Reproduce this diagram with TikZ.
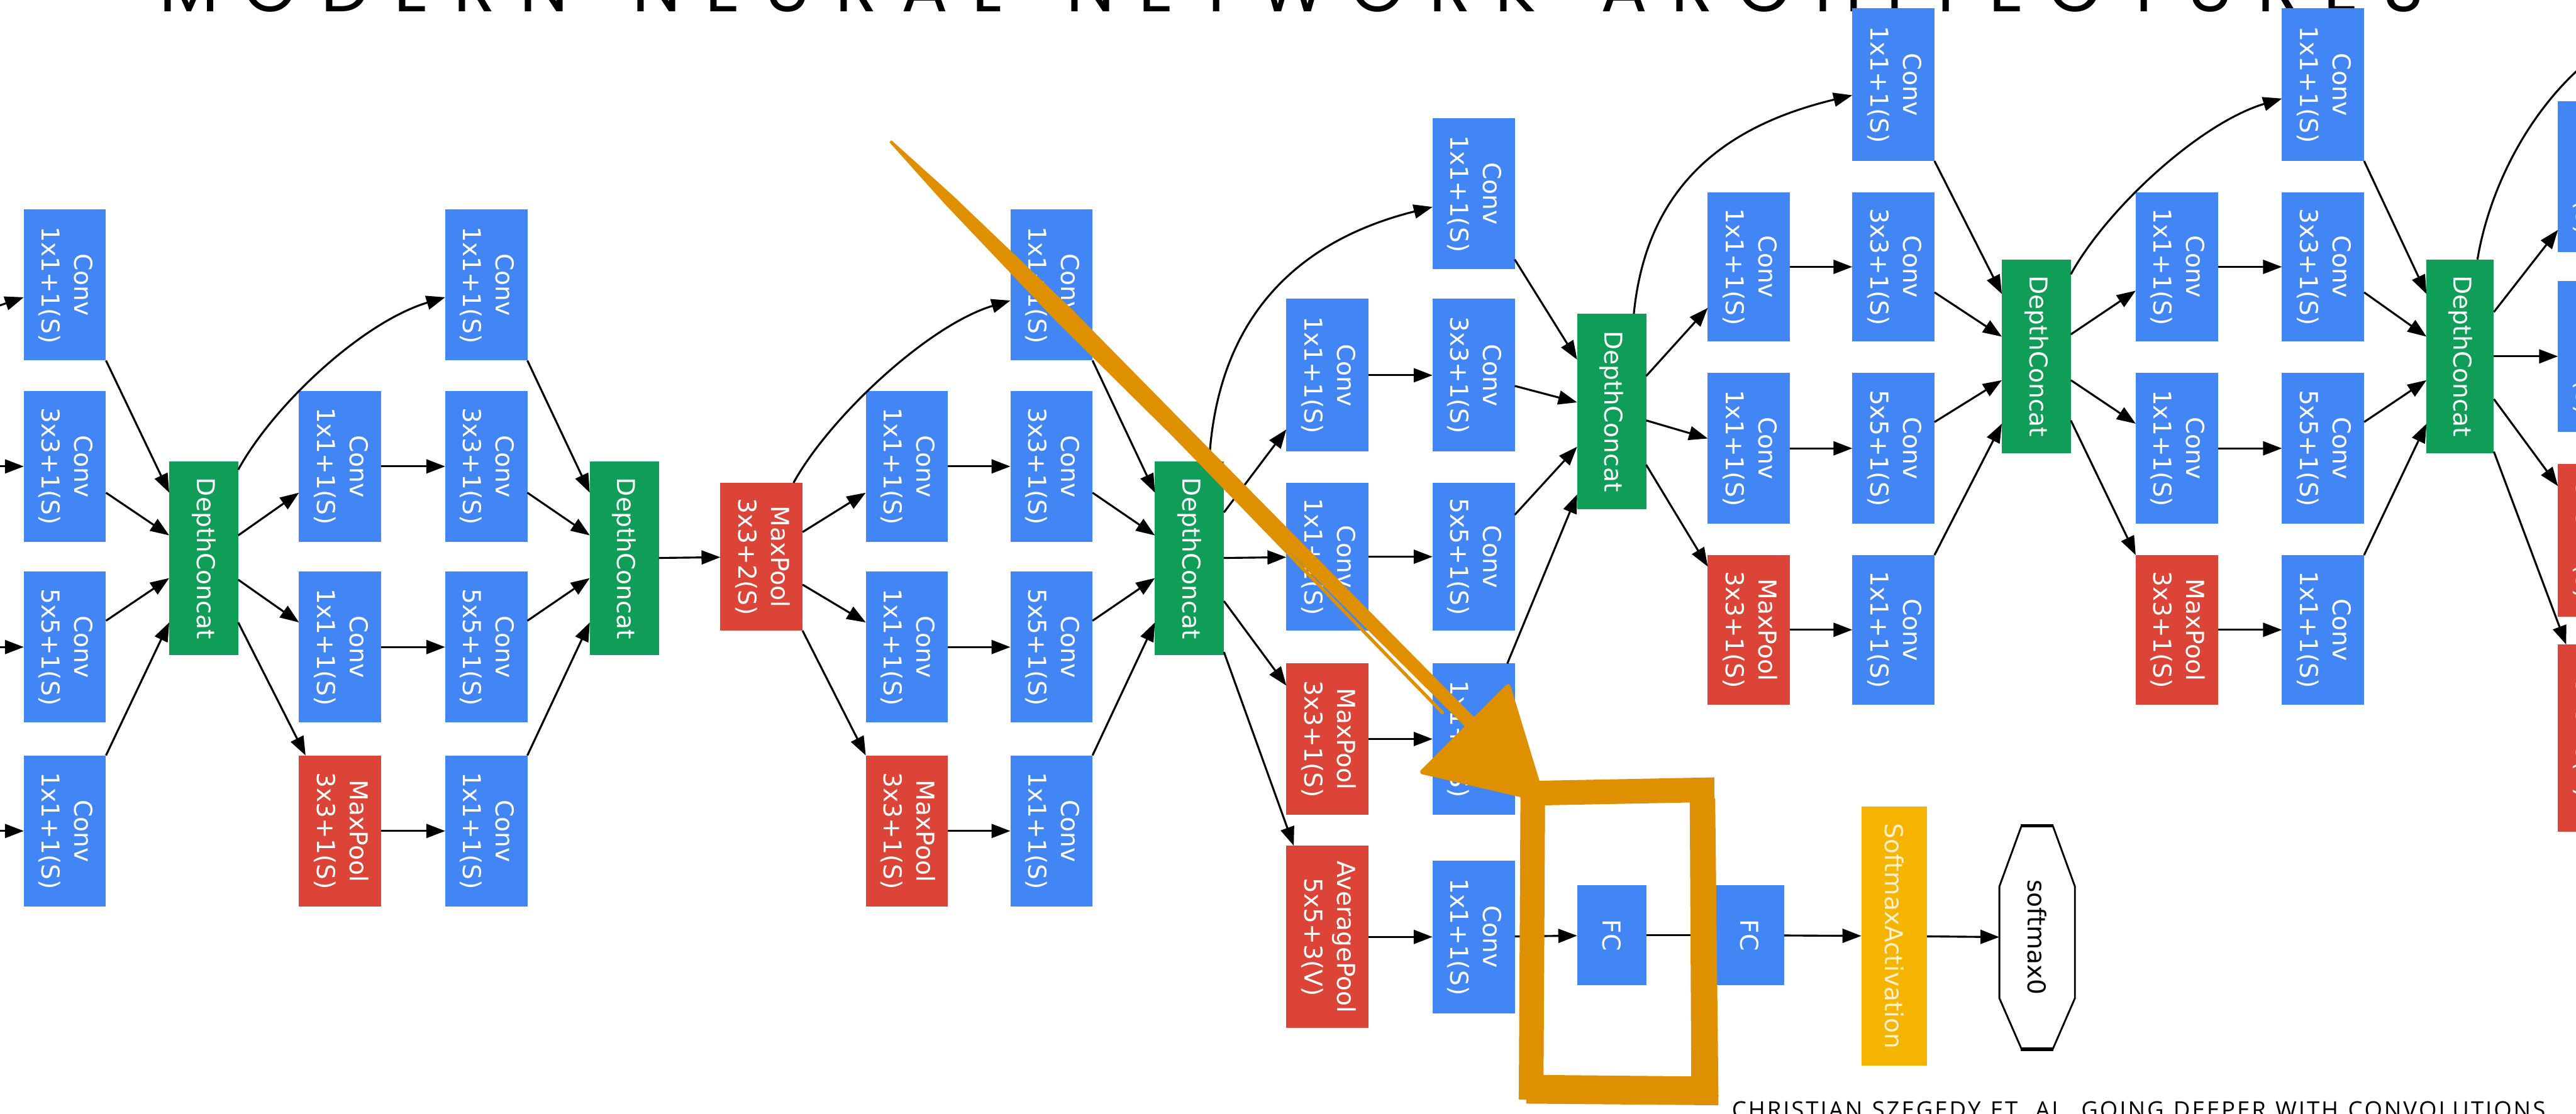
\documentclass[tikz,border=0pt]{standalone}
\usepackage{fontspec}
\usepackage{graphicx}
\usetikzlibrary{arrows.meta}
\newfontfamily\boxfont{DejaVu Sans}
\newfontfamily\titlefont{Poppins}
\newfontfamily\citefont{Open Sans}
\definecolor{gblue}{RGB}{66,133,244}
\definecolor{ggreen}{RGB}{15,157,88}
\definecolor{gred}{RGB}{219,68,55}
\definecolor{gyellow}{RGB}{244,180,0}
\definecolor{brush}{RGB}{222,144,0}

% two-line label, turned to read downwards
\newcommand\vlbl[1]{\rotatebox{-90}{\begin{tabular}{@{}c@{}}#1\end{tabular}}}
% spread letters evenly over a box; | marks a word gap
\def\spreadgap{0pt}
\def\spread#1#2\relax{#1\spreadnext#2\relax}
\def\spreadnext#1{\ifx\relax#1\else\ifx|#1\hfill\hskip\spreadgap\relax\else\hfill#1\fi\expandafter\spreadnext\fi}

\tikzset{
  lbl/.style={inner sep=0pt, outer sep=0pt, text=white, font=\boxfont\fontsize{15}{20}\selectfont},
  conv/.style={lbl, fill=gblue, minimum width=50pt, minimum height=92pt},
  pool/.style={lbl, fill=gred, minimum width=50pt, minimum height=92pt},
  concat/.style={lbl, fill=ggreen, minimum width=42pt, minimum height=118pt},
  fcbox/.style={lbl, fill=gblue, minimum width=42pt, minimum height=61pt},
  arr/.style={-{Triangle[length=11.5pt,width=8.5pt]}, line width=1.2pt, black},
}

\begin{document}
\begin{tikzpicture}[x=1pt,y=-1pt]
\useasboundingbox (0,0) rectangle (1568,678);
\clip (0,0) rectangle (1568,678);
\fill[white] (0,0) rectangle (1568,678);

% ---------- title and reference ----------
\def\spreadgap{10pt}
\node[anchor=base west, inner sep=0pt] (title) at (97,7)
  {\titlefont\fontsize{42}{42}\selectfont\hbox to 1378pt{\spread MODERN|NEURAL|NETWORK|ARCHITECTURES\relax}};
\def\spreadgap{3.6pt}
\node[anchor=base west, inner sep=0pt] (cite) at (1054,681)
  {\citefont\fontsize{14}{14}\selectfont\hbox to 500pt{\spread CHRISTIAN|SZEGEDY|ET.|AL.|GOING|DEEPER|WITH|CONVOLUTIONS.\relax}};

% ---------- inception block 1 (tail) ----------
\node[conv] (c1a) at (39.5,173.5) {\vlbl{Conv\\1x1+1(S)}};
\node[conv] (c1b) at (39.5,284) {\vlbl{Conv\\3x3+1(S)}};
\node[conv] (c1c) at (39.5,394) {\vlbl{Conv\\5x5+1(S)}};
\node[conv] (c1d) at (39.5,506) {\vlbl{Conv\\1x1+1(S)}};
\node[concat] (dc1) at (124,340) {\rotatebox{-90}{DepthConcat}};

% ---------- inception block 2 ----------
\node[conv] (c2a) at (207,284) {\vlbl{Conv\\1x1+1(S)}};
\node[conv] (c2b) at (207,394) {\vlbl{Conv\\1x1+1(S)}};
\node[pool] (c2c) at (207,506) {\vlbl{MaxPool\\3x3+1(S)}};
\node[conv] (c3a) at (296,173.5) {\vlbl{Conv\\1x1+1(S)}};
\node[conv] (c3b) at (296,284) {\vlbl{Conv\\3x3+1(S)}};
\node[conv] (c3c) at (296,394) {\vlbl{Conv\\5x5+1(S)}};
\node[conv] (c3d) at (296,506) {\vlbl{Conv\\1x1+1(S)}};
\node[concat] (dc2) at (380,340) {\rotatebox{-90}{DepthConcat}};

\node[pool, minimum height=90pt] (mp1) at (463.5,339) {\vlbl{MaxPool\\3x3+2(S)}};

% ---------- inception block 3 ----------
\node[conv] (c4a) at (552,284) {\vlbl{Conv\\1x1+1(S)}};
\node[conv] (c4b) at (552,394) {\vlbl{Conv\\1x1+1(S)}};
\node[pool] (c4c) at (552,506) {\vlbl{MaxPool\\3x3+1(S)}};
\node[conv] (c5a) at (640,173.5) {\vlbl{Conv\\1x1+1(S)}};
\node[conv] (c5b) at (640,284) {\vlbl{Conv\\3x3+1(S)}};
\node[conv] (c5c) at (640,394) {\vlbl{Conv\\5x5+1(S)}};
\node[conv] (c5d) at (640,506) {\vlbl{Conv\\1x1+1(S)}};
\node[concat] (dc3) at (724,340) {\rotatebox{-90}{DepthConcat}};

% ---------- inception block 4 with side classifier ----------
\node[conv, minimum height=93pt] (c6a) at (808,228.5) {\vlbl{Conv\\1x1+1(S)}};
\node[conv, minimum height=90pt] (c6b) at (808,339) {\vlbl{Conv\\1x1+1(S)}};
\node[pool] (c6c) at (808,450) {\vlbl{MaxPool\\3x3+1(S)}};
\node[pool, minimum height=111pt] (c6d) at (808,570.5) {\vlbl{AveragePool\\5x5+3(V)}};
\node[conv] (c7a) at (897,118) {\vlbl{Conv\\1x1+1(S)}};
\node[conv, minimum height=93pt] (c7b) at (897,228.5) {\vlbl{Conv\\3x3+1(S)}};
\node[conv, minimum height=90pt] (c7c) at (897,339) {\vlbl{Conv\\5x5+1(S)}};
\node[conv] (c7d) at (897,450) {\vlbl{Conv\\1x1+1(S)}};
\node[conv, minimum height=93pt] (c7e) at (897,570.5) {\vlbl{Conv\\1x1+1(S)}};
\node[concat, minimum height=119pt] (dc4) at (981,250.5) {\rotatebox{-90}{DepthConcat}};

\node[fcbox] (fc1) at (981,569.5) {\rotatebox{-90}{FC}};
\node[fcbox] (fc2) at (1065,569.5) {\rotatebox{-90}{FC}};
\node[lbl, fill=gyellow, text=gyellow!20!white, minimum width=40pt, minimum height=158pt] (sm) at (1153,570)
  {\rotatebox{-90}{SoftmaxActivation}};
\node[lbl, text=black, minimum width=46pt, minimum height=136pt] (out) at (1240,570.8) {\rotatebox{-90}{softmax0}};
\draw[line width=1.1pt, line join=round]
  ([xshift=9.5]out.north) -- ([yshift=-37]out.north east) -- ([yshift=31]out.south east)
  -- ([xshift=9.5]out.south);
\draw[line width=1.1pt, line join=round]
  ([xshift=-9.5]out.north) -- ([yshift=-37]out.north west) -- ([yshift=31]out.south west)
  -- ([xshift=-9.5]out.south);
\draw[line width=2.2pt] ([xshift=-10]out.north) -- ([xshift=10]out.north);
\draw[line width=2.2pt] ([xshift=-10]out.south) -- ([xshift=10]out.south);

% ---------- inception block 5 ----------
\node[conv, minimum height=91pt] (c8a) at (1064.5,162.5) {\vlbl{Conv\\1x1+1(S)}};
\node[conv] (c8b) at (1064.5,273) {\vlbl{Conv\\1x1+1(S)}};
\node[pool, minimum height=91pt] (c8c) at (1064.5,383.5) {\vlbl{MaxPool\\3x3+1(S)}};
\node[conv, minimum height=93pt] (c9a) at (1152.5,51.5) {\vlbl{Conv\\1x1+1(S)}};
\node[conv, minimum height=91pt] (c9b) at (1152.5,162.5) {\vlbl{Conv\\3x3+1(S)}};
\node[conv] (c9c) at (1152.5,273) {\vlbl{Conv\\5x5+1(S)}};
\node[conv, minimum height=91pt] (c9d) at (1152.5,383.5) {\vlbl{Conv\\1x1+1(S)}};
\node[concat] (dc5) at (1239.5,217) {\rotatebox{-90}{DepthConcat}};

% ---------- inception block 6 ----------
\node[conv, minimum height=91pt] (c10a) at (1325,162.5) {\vlbl{Conv\\1x1+1(S)}};
\node[conv] (c10b) at (1325,273) {\vlbl{Conv\\1x1+1(S)}};
\node[pool, minimum height=91pt] (c10c) at (1325,383.5) {\vlbl{MaxPool\\3x3+1(S)}};
\node[conv, minimum height=93pt] (c11a) at (1414,51.5) {\vlbl{Conv\\1x1+1(S)}};
\node[conv, minimum height=91pt] (c11b) at (1414,162.5) {\vlbl{Conv\\3x3+1(S)}};
\node[conv] (c11c) at (1414,273) {\vlbl{Conv\\5x5+1(S)}};
\node[conv, minimum height=91pt] (c11d) at (1414,383.5) {\vlbl{Conv\\1x1+1(S)}};
\node[concat, minimum width=41pt] (dc6) at (1497.5,217) {\rotatebox{-90}{DepthConcat}};

% ---------- next block, running off the page ----------
\node[conv] (c12a) at (1582,107.5) {\vlbl{Conv\\1x1+1(S)}};
\node[conv] (c12b) at (1582,217) {\vlbl{Conv\\1x1+1(S)}};
\node[pool, minimum height=93pt] (c12c) at (1582,329) {\vlbl{MaxPool\\3x3+1(S)}};
\node[pool, minimum height=114pt] (c12d) at (1582,449.5) {\vlbl{AveragePool\\5x5+3(V)}};

% free ends of edges that leave the page
\coordinate (in0) at (-12,190);
\coordinate (in1) at (-12,284);
\coordinate (in2) at (-12,394);
\coordinate (in3) at (-12,506);
\coordinate (offtop) at (1600,20);

% ---------- edges ----------
\draw[arr] (in0) -- ([yshift=-7.5]c1a.west);
\draw[arr] (in1) -- (c1b);
\draw[arr] (in2) -- (c1c);
\draw[arr] (in3) -- (c1d);

\draw[arr] (c1a.south east) -- ([yshift=-19]dc1.north west);
\draw[arr] ([yshift=-16]c1b.east) -- ([yshift=-45]dc1.north west);
\draw[arr] ([yshift=16]c1c.east) -- ([yshift=-71]dc1.north west);
\draw[arr] (c1d.north east) -- ([yshift=-98]dc1.north west);

\draw[arr] ([yshift=-5]dc1.north east) .. controls +(22,-40) and +(-50,15) .. ([yshift=-7.5]c3a.west);
\draw[arr] ([yshift=-45]dc1.north east) -- ([yshift=-16]c2a.west);
\draw[arr] ([yshift=-72]dc1.north east) -- ([yshift=15]c2b.west);
\draw[arr] ([yshift=-98]dc1.north east) -- ([xshift=4]c2c.north west);
\draw[arr] (c2a) -- (c3b);
\draw[arr] (c2b) -- (c3c);
\draw[arr] (c2c) -- (c3d);

\draw[arr] (c3a.south east) -- ([yshift=-19]dc2.north west);
\draw[arr] ([yshift=-16]c3b.east) -- ([yshift=-45]dc2.north west);
\draw[arr] ([yshift=16]c3c.east) -- ([yshift=-71]dc2.north west);
\draw[arr] (c3d.north east) -- ([yshift=-98]dc2.north west);
\draw[arr] (dc2) -- (mp1);

\draw[arr] ([xshift=-5.5]mp1.north east) .. controls +(22,-40) and +(-50,15) .. ([yshift=-9.5]c5a.west);
\draw[arr] ([yshift=-30]mp1.north east) -- ([yshift=-16]c4a.west);
\draw[arr] ([yshift=-62]mp1.north east) -- ([yshift=15]c4b.west);
\draw[arr] (mp1.south east) -- (c4c.north west);
\draw[arr] (c4a) -- (c5b);
\draw[arr] (c4b) -- (c5c);
\draw[arr] (c4c) -- (c5d);

\draw[arr] (c5a.south east) -- ([yshift=-19]dc3.north west);
\draw[arr] ([yshift=-16]c5b.east) -- ([yshift=-45]dc3.north west);
\draw[arr] ([yshift=16]c5c.east) -- ([yshift=-71]dc3.north west);
\draw[arr] (c5d.north east) -- ([yshift=-98]dc3.north west);

\draw[arr] ([xshift=-9]dc3.north east) .. controls +(5,-90) and +(-80,20) .. ([yshift=-8]c7a.west);
\draw[arr] ([yshift=-31]dc3.north east) -- ([yshift=-33]c6a.west);
\draw[arr] (dc3) -- (c6b);
\draw[arr] ([yshift=-85]dc3.north east) -- ([yshift=-13.5]c6c.north west);
\draw[arr] ([yshift=-116]dc3.north east) -- ([xshift=4.5]c6d.north west);
\draw[arr] (c6a) -- (c7b);
\draw[arr] (c6b) -- (c7c);
\draw[arr] (c6c) -- (c7d);
\draw[arr] (c6d) -- (c7e);

\draw[arr] ([yshift=6]c7a.south east) -- ([yshift=-28]dc4.north west);
\draw[arr] ([yshift=-6.5]c7b.east) -- ([yshift=-54]dc4.north west);
\draw[arr] ([yshift=25.5]c7c.east) -- ([yshift=-81]dc4.north west);
\draw[arr] ([xshift=-4.5]c7d.north east) -- ([yshift=-110]dc4.north west);

\draw[arr] (c7e) -- (fc1);
\draw[arr] (fc1) -- (fc2);
\draw[arr] (fc2) -- (sm);
\draw[arr] (sm) -- (out);

\draw[arr] ([xshift=-7.5]dc4.north east) .. controls +(8,-80) and +(-75,18) .. ([yshift=-6.5]c9a.west);
\draw[arr] ([yshift=-38]dc4.north east) -- ([yshift=-25]c8a.west);
\draw[arr] ([yshift=-65]dc4.north east) -- ([yshift=6]c8b.west);
\draw[arr] ([yshift=-92]dc4.north east) -- ([yshift=-7]c8c.north west);
\draw[arr] (c8a) -- (c9b);
\draw[arr] (c8b) -- (c9c);
\draw[arr] (c8c) -- (c9d);

\draw[arr] (c9a.south east) -- ([yshift=-21]dc5.north west);
\draw[arr] ([yshift=-15.5]c9b.east) -- ([yshift=-47]dc5.north west);
\draw[arr] ([yshift=16]c9c.east) -- ([yshift=-73.5]dc5.north west);
\draw[arr] (c9d.north east) -- ([yshift=-100]dc5.north west);

\draw[arr] ([yshift=-9]dc5.north east) .. controls +(22,-40) and +(-50,15) .. ([yshift=-8.5]c11a.west);
\draw[arr] ([yshift=-45.6]dc5.north east) -- ([yshift=-14.5]c10a.west);
\draw[arr] ([yshift=-73.5]dc5.north east) -- ([yshift=15]c10b.west);
\draw[arr] ([yshift=-98]dc5.north east) -- (c10c.north west);
\draw[arr] (c10a) -- (c11b);
\draw[arr] (c10b) -- (c11c);
\draw[arr] (c10c) -- (c11d);

\draw[arr] (c11a.south east) -- ([yshift=-21]dc6.north west);
\draw[arr] ([yshift=-15.5]c11b.east) -- ([yshift=-47]dc6.north west);
\draw[arr] ([yshift=16]c11c.east) -- ([yshift=-73.5]dc6.north west);
\draw[arr] (c11d.north east) -- ([yshift=-100]dc6.north west);

\draw[arr] ([xshift=-10]dc6.north east) .. controls +(8,-48) and +(-55,35) .. (offtop);
\draw[arr] ([yshift=-32]dc6.north east) -- ([yshift=-32.5]c12a.west);
\draw[arr] (dc6) -- (c12b);
\draw[arr] ([yshift=-85]dc6.north east) -- ([yshift=-13.5]c12c.north west);
\draw[arr] ([yshift=-117]dc6.north east) -- ([xshift=5]c12d.north west);

% ---------- hand-drawn highlight ----------
\fill[brush] (542.6,85.4) -- (579.8,118.9) -- (652.1,188) -- (757.3,294.9) -- (897.8,437.2)
  -- (892.2,442.8) -- (750.3,301.9) -- (643.7,196.4) -- (574.8,123.9) -- (541.4,86.6) -- cycle;
\draw[brush, line width=2pt, line cap=round] (700,250) -- (878,434);
\filldraw[brush, line width=3pt, line join=round] (866,470) -- (918,418) -- (939,487) -- cycle;
\draw[brush, line width=15pt, line join=miter] (933,483) -- (1036,481) -- (1037,663) -- (932,662) -- cycle;
\draw[brush, line width=6pt] (929,669) -- (1046,670);
\draw[brush, line width=4pt] (1042,486) -- (1044,668);
\end{tikzpicture}
\end{document}
